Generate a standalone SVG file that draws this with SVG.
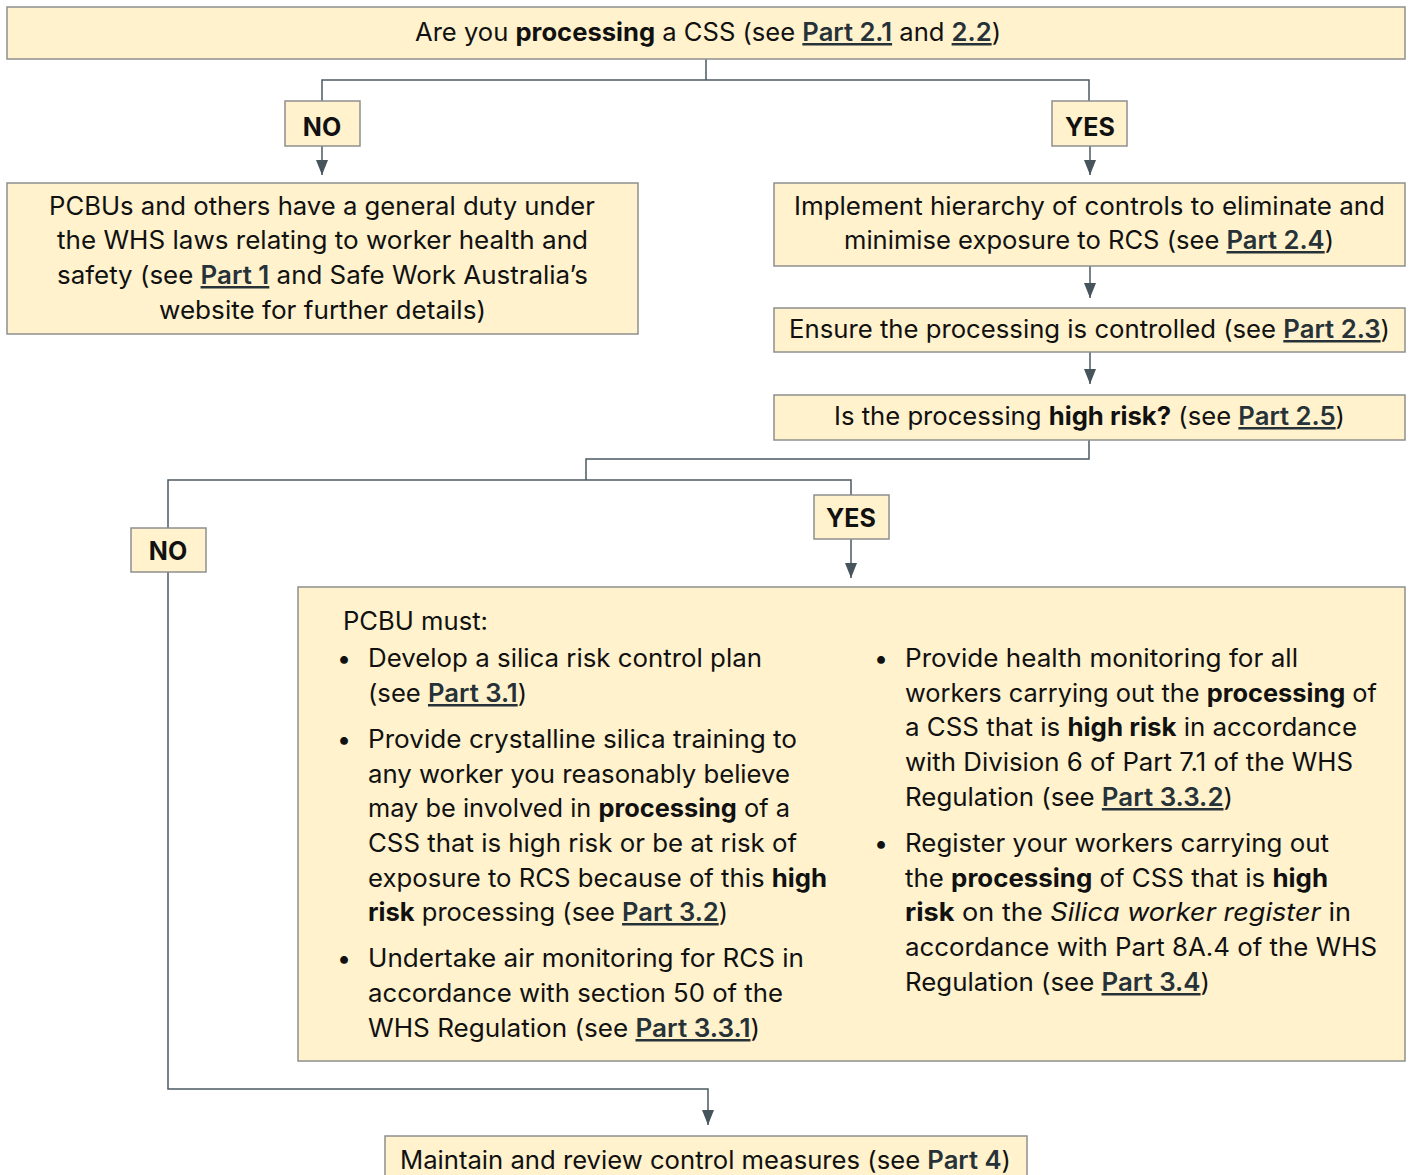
<svg xmlns="http://www.w3.org/2000/svg" width="1410" height="1175" viewBox="0 0 1410 1175">
<style>
.box{fill:#fff2cc;stroke:#8f8f8f;stroke-width:1.5}
.t{font-family:Inter,"Noto Sans","Liberation Sans",sans-serif;font-size:25px;fill:#111}
.b{font-weight:700}
.lk{font-weight:600;fill:#263238;text-decoration:underline}
.lkn{font-weight:600;fill:#263238}
.i{font-style:italic}
.conn{fill:none;stroke:#4a5a62;stroke-width:1.5}
</style>
<defs>
<marker id="ah" viewBox="0 0 15 12" refX="15" refY="6" markerWidth="15" markerHeight="12" markerUnits="userSpaceOnUse" orient="auto">
<path d="M0,0 L15,6 L0,12 z" fill="#46555c"/>
</marker>
</defs>
<rect width="1410" height="1175" fill="#ffffff"/>

<g id="connectors">
<path class="conn" d="M706,59 V80 M322,101 V80 H1089 V101"/>
<path class="conn" d="M322,146 V175" marker-end="url(#ah)"/>
<path class="conn" d="M1090,146 V175" marker-end="url(#ah)"/>
<path class="conn" d="M1090,266 V298" marker-end="url(#ah)"/>
<path class="conn" d="M1090,352 V384" marker-end="url(#ah)"/>
<path class="conn" d="M1089,440 V459 H586 V480 M168,528 V480 H851 V495"/>
<path class="conn" d="M851,539 V578" marker-end="url(#ah)"/>
<path class="conn" d="M168,572 V1089 H708 V1125" marker-end="url(#ah)"/>
</g>

<g id="q1">
<rect class="box" x="7" y="7" width="1398" height="52"/>
<text class="t" x="415" y="41" textLength="586" lengthAdjust="spacingAndGlyphs">Are you <tspan class="b">processing</tspan> a CSS (see <tspan class="lk">Part 2.1</tspan> and <tspan class="lk">2.2</tspan>)</text>
</g>

<g id="no1">
<rect class="box" x="285" y="101" width="75" height="45"/>
<text class="t b" x="322" y="136" text-anchor="middle">NO</text>
</g>

<g id="yes1">
<rect class="box" x="1052" y="101" width="75" height="45"/>
<text class="t b" x="1090" y="136" text-anchor="middle">YES</text>
</g>

<g id="general-duty">
<rect class="box" x="7" y="183" width="631" height="151"/>
<text class="t" x="49" y="215" textLength="546" lengthAdjust="spacingAndGlyphs">PCBUs and others have a general duty under</text>
<text class="t" x="57" y="249" textLength="531" lengthAdjust="spacingAndGlyphs">the WHS laws relating to worker health and</text>
<text class="t" x="57" y="284" textLength="531" lengthAdjust="spacingAndGlyphs">safety (see <tspan class="lk">Part 1</tspan> and Safe Work Australia’s</text>
<text class="t" x="159" y="319" textLength="327" lengthAdjust="spacingAndGlyphs">website for further details)</text>
</g>

<g id="hierarchy">
<rect class="box" x="774" y="183" width="631" height="83"/>
<text class="t" x="794" y="215" textLength="591" lengthAdjust="spacingAndGlyphs">Implement hierarchy of controls to eliminate and</text>
<text class="t" x="844" y="249" textLength="490" lengthAdjust="spacingAndGlyphs">minimise exposure to RCS (see <tspan class="lk">Part 2.4</tspan>)</text>
</g>

<g id="controlled">
<rect class="box" x="774" y="308" width="631" height="44"/>
<text class="t" x="789" y="338" textLength="601" lengthAdjust="spacingAndGlyphs">Ensure the processing is controlled (see <tspan class="lk">Part 2.3</tspan>)</text>
</g>

<g id="q2">
<rect class="box" x="774" y="395" width="631" height="45"/>
<text class="t" x="834" y="425" textLength="511" lengthAdjust="spacingAndGlyphs">Is the processing <tspan class="b">high risk?</tspan> (see <tspan class="lk">Part 2.5</tspan>)</text>
</g>

<g id="no2">
<rect class="box" x="131" y="528" width="75" height="44"/>
<text class="t b" x="168" y="560" text-anchor="middle">NO</text>
</g>

<g id="yes2">
<rect class="box" x="814" y="495" width="75" height="44"/>
<text class="t b" x="851" y="527" text-anchor="middle">YES</text>
</g>

<g id="pcbu-must">
<rect class="box" x="298" y="587" width="1107" height="474"/>
<text class="t" x="343" y="630" textLength="145" lengthAdjust="spacingAndGlyphs">PCBU must:</text>
<text class="t" x="344" y="667" text-anchor="middle">•</text>
<text class="t" x="368" y="667" textLength="394" lengthAdjust="spacingAndGlyphs">Develop a silica risk control plan</text>
<text class="t" x="368" y="702" textLength="159" lengthAdjust="spacingAndGlyphs">(see <tspan class="lk">Part 3.1</tspan>)</text>
<text class="t" x="344" y="748" text-anchor="middle">•</text>
<text class="t" x="368" y="748" textLength="429" lengthAdjust="spacingAndGlyphs">Provide crystalline silica training to</text>
<text class="t" x="368" y="783" textLength="422" lengthAdjust="spacingAndGlyphs">any worker you reasonably believe</text>
<text class="t" x="368" y="817" textLength="422" lengthAdjust="spacingAndGlyphs">may be involved in <tspan class="b">processing</tspan> of a</text>
<text class="t" x="368" y="852" textLength="429" lengthAdjust="spacingAndGlyphs">CSS that is high risk or be at risk of</text>
<text class="t" x="368" y="887" textLength="459" lengthAdjust="spacingAndGlyphs">exposure to RCS because of this <tspan class="b">high</tspan></text>
<text class="t" x="368" y="921" textLength="360" lengthAdjust="spacingAndGlyphs"><tspan class="b">risk</tspan> processing (see <tspan class="lk">Part 3.2</tspan>)</text>
<text class="t" x="344" y="967" text-anchor="middle">•</text>
<text class="t" x="368" y="967" textLength="436" lengthAdjust="spacingAndGlyphs">Undertake air monitoring for RCS in</text>
<text class="t" x="368" y="1002" textLength="415" lengthAdjust="spacingAndGlyphs">accordance with section 50 of the</text>
<text class="t" x="368" y="1037" textLength="392" lengthAdjust="spacingAndGlyphs">WHS Regulation (see <tspan class="lk">Part 3.3.1</tspan>)</text>

<text class="t" x="881" y="667" text-anchor="middle">•</text>
<text class="t" x="905" y="667" textLength="393" lengthAdjust="spacingAndGlyphs">Provide health monitoring for all</text>
<text class="t" x="905" y="702" textLength="472" lengthAdjust="spacingAndGlyphs">workers carrying out the <tspan class="b">processing</tspan> of</text>
<text class="t" x="905" y="736" textLength="452" lengthAdjust="spacingAndGlyphs">a CSS that is <tspan class="b">high risk</tspan> in accordance</text>
<text class="t" x="905" y="771" textLength="448" lengthAdjust="spacingAndGlyphs">with Division 6 of Part 7.1 of the WHS</text>
<text class="t" x="905" y="806" textLength="328" lengthAdjust="spacingAndGlyphs">Regulation (see <tspan class="lk">Part 3.3.2</tspan>)</text>
<text class="t" x="881" y="852" text-anchor="middle">•</text>
<text class="t" x="905" y="852" textLength="424" lengthAdjust="spacingAndGlyphs">Register your workers carrying out</text>
<text class="t" x="905" y="887" textLength="423" lengthAdjust="spacingAndGlyphs">the <tspan class="b">processing</tspan> of CSS that is <tspan class="b">high</tspan></text>
<text class="t" x="905" y="921" textLength="446" lengthAdjust="spacingAndGlyphs"><tspan class="b">risk</tspan> on the <tspan class="i">Silica worker register</tspan> in</text>
<text class="t" x="905" y="956" textLength="472" lengthAdjust="spacingAndGlyphs">accordance with Part 8A.4 of the WHS</text>
<text class="t" x="905" y="991" textLength="305" lengthAdjust="spacingAndGlyphs">Regulation (see <tspan class="lk">Part 3.4</tspan>)</text>
</g>

<g id="maintain">
<rect class="box" x="385" y="1136" width="642" height="50"/>
<text class="t" x="400" y="1169" textLength="611" lengthAdjust="spacingAndGlyphs">Maintain and review control measures (see <tspan class="lkn">Part 4</tspan>)</text>
</g>
</svg>
